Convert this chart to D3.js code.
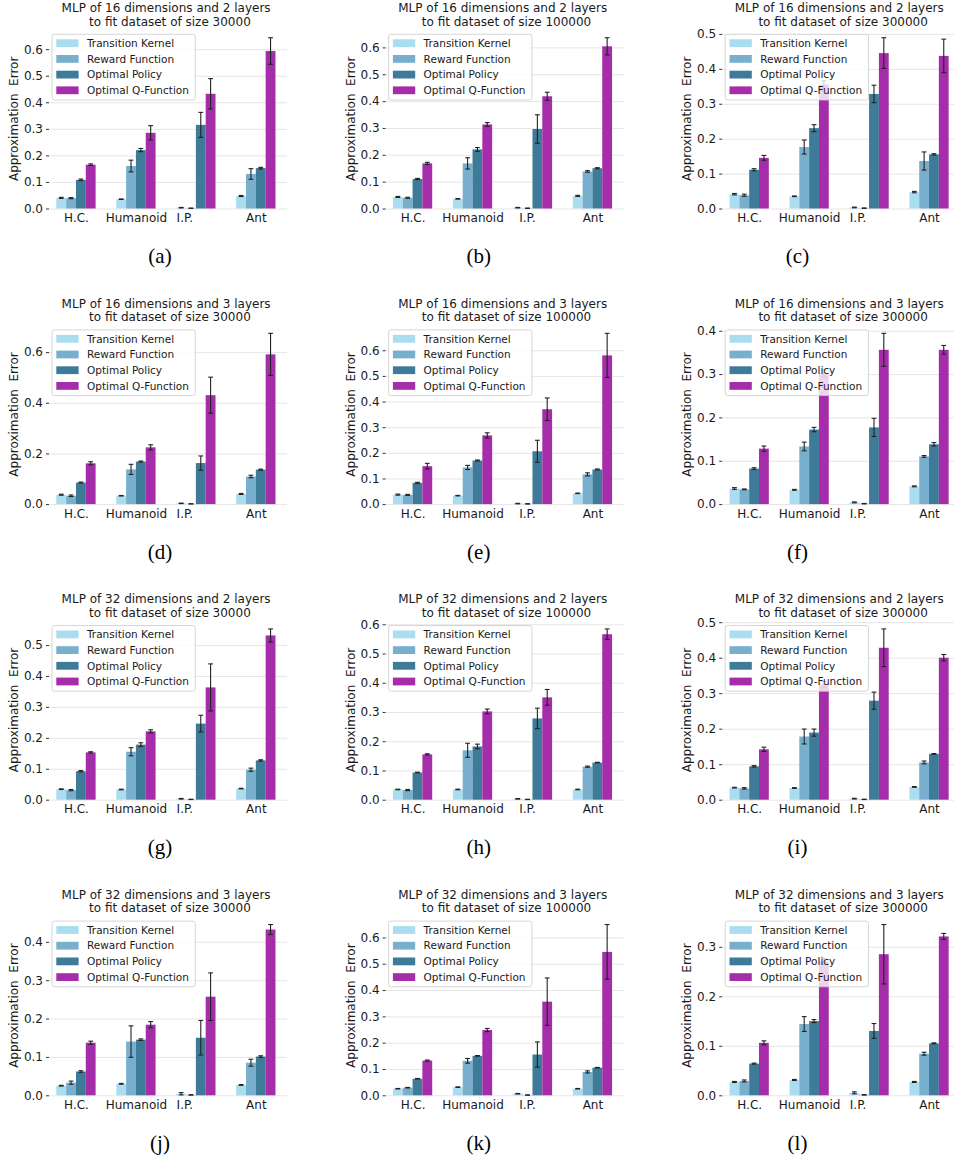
<!DOCTYPE html>
<html>
<head>
<meta charset="utf-8">
<script src="https://cdn.jsdelivr.net/npm/d3@7"></script>
<style>
  body { margin: 0; background: #fff; }
  svg { display: block; }
  text { font-family: "DejaVu Sans", sans-serif; }
</style>
</head>
<body>
<div id="chart"></div>
<script>
// categories, series and panel settings
var categories = ["H.C.", "Humanoid", "I.P.", "Ant"];
var seriesNames = ["Transition Kernel", "Reward Function", "Optimal Policy", "Optimal Q-Function"];
var seriesColors = ["#a9ddef", "#78afcd", "#3e7b98", "#a52da9"];
var hiddenDims = [16, 16, 16, 16, 16, 16, 32, 32, 32, 32, 32, 32];
var numLayers = [2, 2, 2, 3, 3, 3, 2, 2, 2, 3, 3, 3];
var datasetSizes = [30000, 100000, 300000, 30000, 100000, 300000, 30000, 100000, 300000, 30000, 100000, 300000];
var captions = ["(a)", "(b)", "(c)", "(d)", "(e)", "(f)", "(g)", "(h)", "(i)", "(j)", "(k)", "(l)"];
var yTickSteps = [0.1, 0.1, 0.1, 0.2, 0.1, 0.1, 0.1, 0.1, 0.1, 0.1, 0.1, 0.1];

// one row per panel (a)..(l), columns follow categories
var tkMean = [
    [0.040, 0.035, 0.003, 0.047], [0.043, 0.036, 0.003, 0.047], [0.041, 0.035, 0.003, 0.047],
    [0.037, 0.033, 0.003, 0.040], [0.037, 0.033, 0.002, 0.042], [0.036, 0.033, 0.004, 0.041],
    [0.034, 0.033, 0.003, 0.036], [0.035, 0.035, 0.003, 0.035], [0.034, 0.033, 0.003, 0.036],
    [0.025, 0.030, 0.004, 0.027], [0.025, 0.031, 0.006, 0.025], [0.027, 0.031, 0.005, 0.027]
];
var tkErr = [
    [0.002, 0.001, 0.001, 0.002], [0.002, 0.001, 0.001, 0.002], [0.002, 0.001, 0.001, 0.002],
    [0.002, 0.001, 0.001, 0.002], [0.002, 0.001, 0.001, 0.001], [0.002, 0.001, 0.001, 0.001],
    [0.001, 0.001, 0.001, 0.001], [0.001, 0.001, 0.001, 0.001], [0.001, 0.001, 0.001, 0.001],
    [0.001, 0.001, 0.003, 0.001], [0.001, 0.001, 0.001, 0.001], [0.001, 0.001, 0.002, 0.001]
];
var rfMean = [
    [0.039, 0.160, 0.001, 0.130], [0.040, 0.168, 0.001, 0.138], [0.038, 0.176, 0.001, 0.136],
    [0.033, 0.137, 0.001, 0.109], [0.036, 0.143, 0.001, 0.116], [0.034, 0.133, 0.001, 0.110],
    [0.031, 0.155, 0.001, 0.097], [0.033, 0.169, 0.001, 0.113], [0.032, 0.178, 0.001, 0.105],
    [0.033, 0.140, 0.001, 0.085], [0.029, 0.131, 0.001, 0.089], [0.029, 0.144, 0.001, 0.084]
];
var rfErr = [
    [0.002, 0.022, 0.0005, 0.020], [0.002, 0.021, 0.0005, 0.003], [0.003, 0.020, 0.0005, 0.026],
    [0.003, 0.020, 0.0005, 0.005], [0.002, 0.008, 0.0005, 0.006], [0.001, 0.010, 0.0005, 0.002],
    [0.002, 0.013, 0.0005, 0.005], [0.002, 0.024, 0.0005, 0.002], [0.002, 0.021, 0.0005, 0.004],
    [0.004, 0.041, 0.0005, 0.009], [0.001, 0.009, 0.0005, 0.004], [0.002, 0.015, 0.0005, 0.003]
];
var opMean = [
    [0.108, 0.220, 0.315, 0.152], [0.110, 0.220, 0.296, 0.150], [0.111, 0.230, 0.328, 0.155],
    [0.085, 0.168, 0.162, 0.136], [0.083, 0.170, 0.206, 0.135], [0.082, 0.172, 0.177, 0.138],
    [0.092, 0.178, 0.246, 0.127], [0.093, 0.182, 0.278, 0.127], [0.094, 0.189, 0.279, 0.129],
    [0.062, 0.145, 0.150, 0.101], [0.063, 0.150, 0.155, 0.105], [0.064, 0.150, 0.130, 0.105]
];
var opErr = [
    [0.003, 0.006, 0.047, 0.003], [0.002, 0.007, 0.053, 0.002], [0.003, 0.010, 0.025, 0.002],
    [0.002, 0.002, 0.028, 0.002], [0.002, 0.002, 0.043, 0.002], [0.002, 0.005, 0.021, 0.004],
    [0.002, 0.006, 0.027, 0.002], [0.001, 0.008, 0.035, 0.001], [0.002, 0.010, 0.024, 0.001],
    [0.002, 0.002, 0.045, 0.002], [0.001, 0.001, 0.048, 0.001], [0.001, 0.003, 0.015, 0.001]
];
var qMean = [
    [0.165, 0.285, 0.432, 0.593], [0.168, 0.313, 0.418, 0.604], [0.145, 0.355, 0.445, 0.437],
    [0.161, 0.224, 0.430, 0.591], [0.148, 0.268, 0.370, 0.580], [0.128, 0.302, 0.356, 0.356],
    [0.153, 0.221, 0.363, 0.531], [0.155, 0.302, 0.350, 0.566], [0.142, 0.325, 0.428, 0.400],
    [0.137, 0.184, 0.257, 0.432], [0.132, 0.248, 0.356, 0.545], [0.106, 0.270, 0.285, 0.321]
];
var qErr = [
    [0.003, 0.027, 0.057, 0.050], [0.004, 0.007, 0.015, 0.032], [0.007, 0.011, 0.044, 0.048],
    [0.006, 0.010, 0.071, 0.083], [0.011, 0.010, 0.044, 0.086], [0.006, 0.008, 0.038, 0.010],
    [0.002, 0.005, 0.076, 0.021], [0.002, 0.008, 0.027, 0.018], [0.006, 0.008, 0.053, 0.009],
    [0.004, 0.008, 0.062, 0.013], [0.002, 0.006, 0.090, 0.104], [0.004, 0.006, 0.060, 0.006]
];

var means = [tkMean, rfMean, opMean, qMean];
var errs = [tkErr, rfErr, opErr, qErr];

// layout
var svgWidth = 954, svgHeight = 1160;
var colStep = 336.6, rowStep = 295.6;
var plotLeft = 49, plotTop = 29.2;
var width = 238, height = 179.3;
var captionX = 160, captionStep = 318.75, captionY = 263;
var ipShift = [-11.5, -5.5, -11.5];   // I.P. tick label sits left of its bars

var svg = d3.select("#chart")
    .append("svg")
    .attr("width", svgWidth)
    .attr("height", svgHeight);

var x = d3.scaleLinear().domain([-0.45, 3.52]).range([0, width]);
var groupW = 0.655, barW = groupW / 4;

captions.forEach(function(cap, p) {
    var col = p % 3, row = Math.floor(p / 3);
    var ox = plotLeft + col * colStep;
    var oy = plotTop + row * rowStep;

    // rows of {cat, series, mean, err}
    var data = [];
    seriesNames.forEach(function(s, k) {
        categories.forEach(function(c, i) {
            data.push({ i: i, k: k, m: means[k][p][i], e: errs[k][p][i] });
        });
    });

    var ymax = 1.05 * d3.max(data, d => d.m + d.e);
    var y = d3.scaleLinear().domain([0, ymax]).range([height, 0]);
    var ticks = d3.range(0, ymax + 1e-9, yTickSteps[p]);

    var g = svg.append("g").attr("transform", `translate(${ox}, ${oy})`);

    // grid
    g.append("g")
        .call(d3.axisLeft(y).tickValues(ticks).tickSize(-width).tickFormat(""))
        .call(a => a.select(".domain").remove())
        .call(a => a.selectAll("line").attr("stroke", "#e6e6e6").attr("stroke-width", 1));

    // y axis
    g.append("g")
        .call(d3.axisLeft(y).tickValues(ticks).tickSize(3).tickPadding(3).tickFormat(d3.format(".1f")))
        .call(a => a.select(".domain").remove())
        .call(a => a.selectAll("line").attr("stroke", "#333"))
        .call(a => a.selectAll("text").attr("fill", "#1a1a1a").style("font-size", "12px")
            .style("font-family", "'DejaVu Sans', sans-serif"));

    // x axis
    g.append("g")
        .attr("transform", `translate(0, ${height})`)
        .call(d3.axisBottom(x).tickValues([0, 1, 2, 3]).tickSize(0).tickPadding(5)
            .tickFormat(i => categories[i]))
        .call(a => a.select(".domain").remove())
        .call(a => a.selectAll("text").attr("fill", "#1a1a1a").style("font-size", "12px")
            .style("font-family", "'DejaVu Sans', sans-serif")
            .attr("dx", i => i === 2 ? ipShift[col] : 0));

    // bars
    g.selectAll("rect.bar")
        .data(data)
        .enter()
        .append("rect")
        .attr("class", "bar")
        .attr("x", d => x(d.i - groupW / 2 + d.k * barW))
        .attr("width", x(barW) - x(0))
        .attr("y", d => y(d.m))
        .attr("height", d => y(0) - y(d.m))
        .attr("fill", d => seriesColors[d.k]);

    // error bars
    var eb = g.selectAll("g.err")
        .data(data)
        .enter()
        .append("g")
        .attr("class", "err")
        .attr("stroke", "#222")
        .attr("stroke-width", 1.1);
    var cx = d => x(d.i - groupW / 2 + (d.k + 0.5) * barW);
    eb.append("line")
        .attr("x1", cx).attr("x2", cx)
        .attr("y1", d => y(d.m - d.e)).attr("y2", d => y(d.m + d.e));
    eb.append("line")
        .attr("x1", d => cx(d) - 2.4).attr("x2", d => cx(d) + 2.4)
        .attr("y1", d => y(d.m + d.e)).attr("y2", d => y(d.m + d.e));
    eb.append("line")
        .attr("x1", d => cx(d) - 2.4).attr("x2", d => cx(d) + 2.4)
        .attr("y1", d => y(d.m - d.e)).attr("y2", d => y(d.m - d.e));

    // legend
    var lg = g.append("g").attr("transform", "translate(3, 5.1)");
    lg.append("rect")
        .attr("width", 143.3).attr("height", 65.7)
        .attr("rx", 2.5)
        .attr("fill", "#fff").attr("fill-opacity", 0.8)
        .attr("stroke", "#cccccc").attr("stroke-opacity", 0.8);
    var items = lg.selectAll("g.item")
        .data(seriesNames)
        .enter()
        .append("g")
        .attr("transform", (d, k) => `translate(0, ${8.9 + k * 15.7})`);
    items.append("rect")
        .attr("x", 4.3).attr("y", -3.9)
        .attr("width", 22.3).attr("height", 7.8)
        .attr("fill", (d, k) => seriesColors[k]);
    items.append("text")
        .attr("x", 35).attr("dy", "0.36em")
        .style("font-size", "10.5px")
        .attr("fill", "#1a1a1a")
        .text(d => d);

    // title (two lines, trailing/leading space as in the source)
    var title = g.append("text")
        .attr("text-anchor", "middle")
        .attr("xml:space", "preserve")
        .style("white-space", "pre")
        .style("font-size", "12px")
        .attr("fill", "#1a1a1a");
    title.append("tspan")
        .attr("x", width / 2).attr("y", -17.2)
        .text(`MLP of ${hiddenDims[p]} dimensions and ${numLayers[p]} layers `);
    title.append("tspan")
        .attr("x", width / 2).attr("y", -3.7)
        .text(` to fit dataset of size ${datasetSizes[p]}`);

    // y label
    g.append("text")
        .attr("transform", `translate(-35.3, ${height / 2}) rotate(-90)`)
        .attr("text-anchor", "middle")
        .attr("dy", "0.35em")
        .attr("xml:space", "preserve")
        .style("white-space", "pre")
        .style("font-size", "12px")
        .attr("fill", "#1a1a1a")
        .text("Approximation  Error");

    // caption
    svg.append("text")
        .attr("x", captionX + col * captionStep)
        .attr("y", captionY + row * rowStep)
        .attr("text-anchor", "middle")
        .style("font-family", "'Liberation Serif', 'Times New Roman', serif")
        .style("font-size", "21px")
        .attr("fill", "#000")
        .text(cap);
});
</script>
</body>
</html>
